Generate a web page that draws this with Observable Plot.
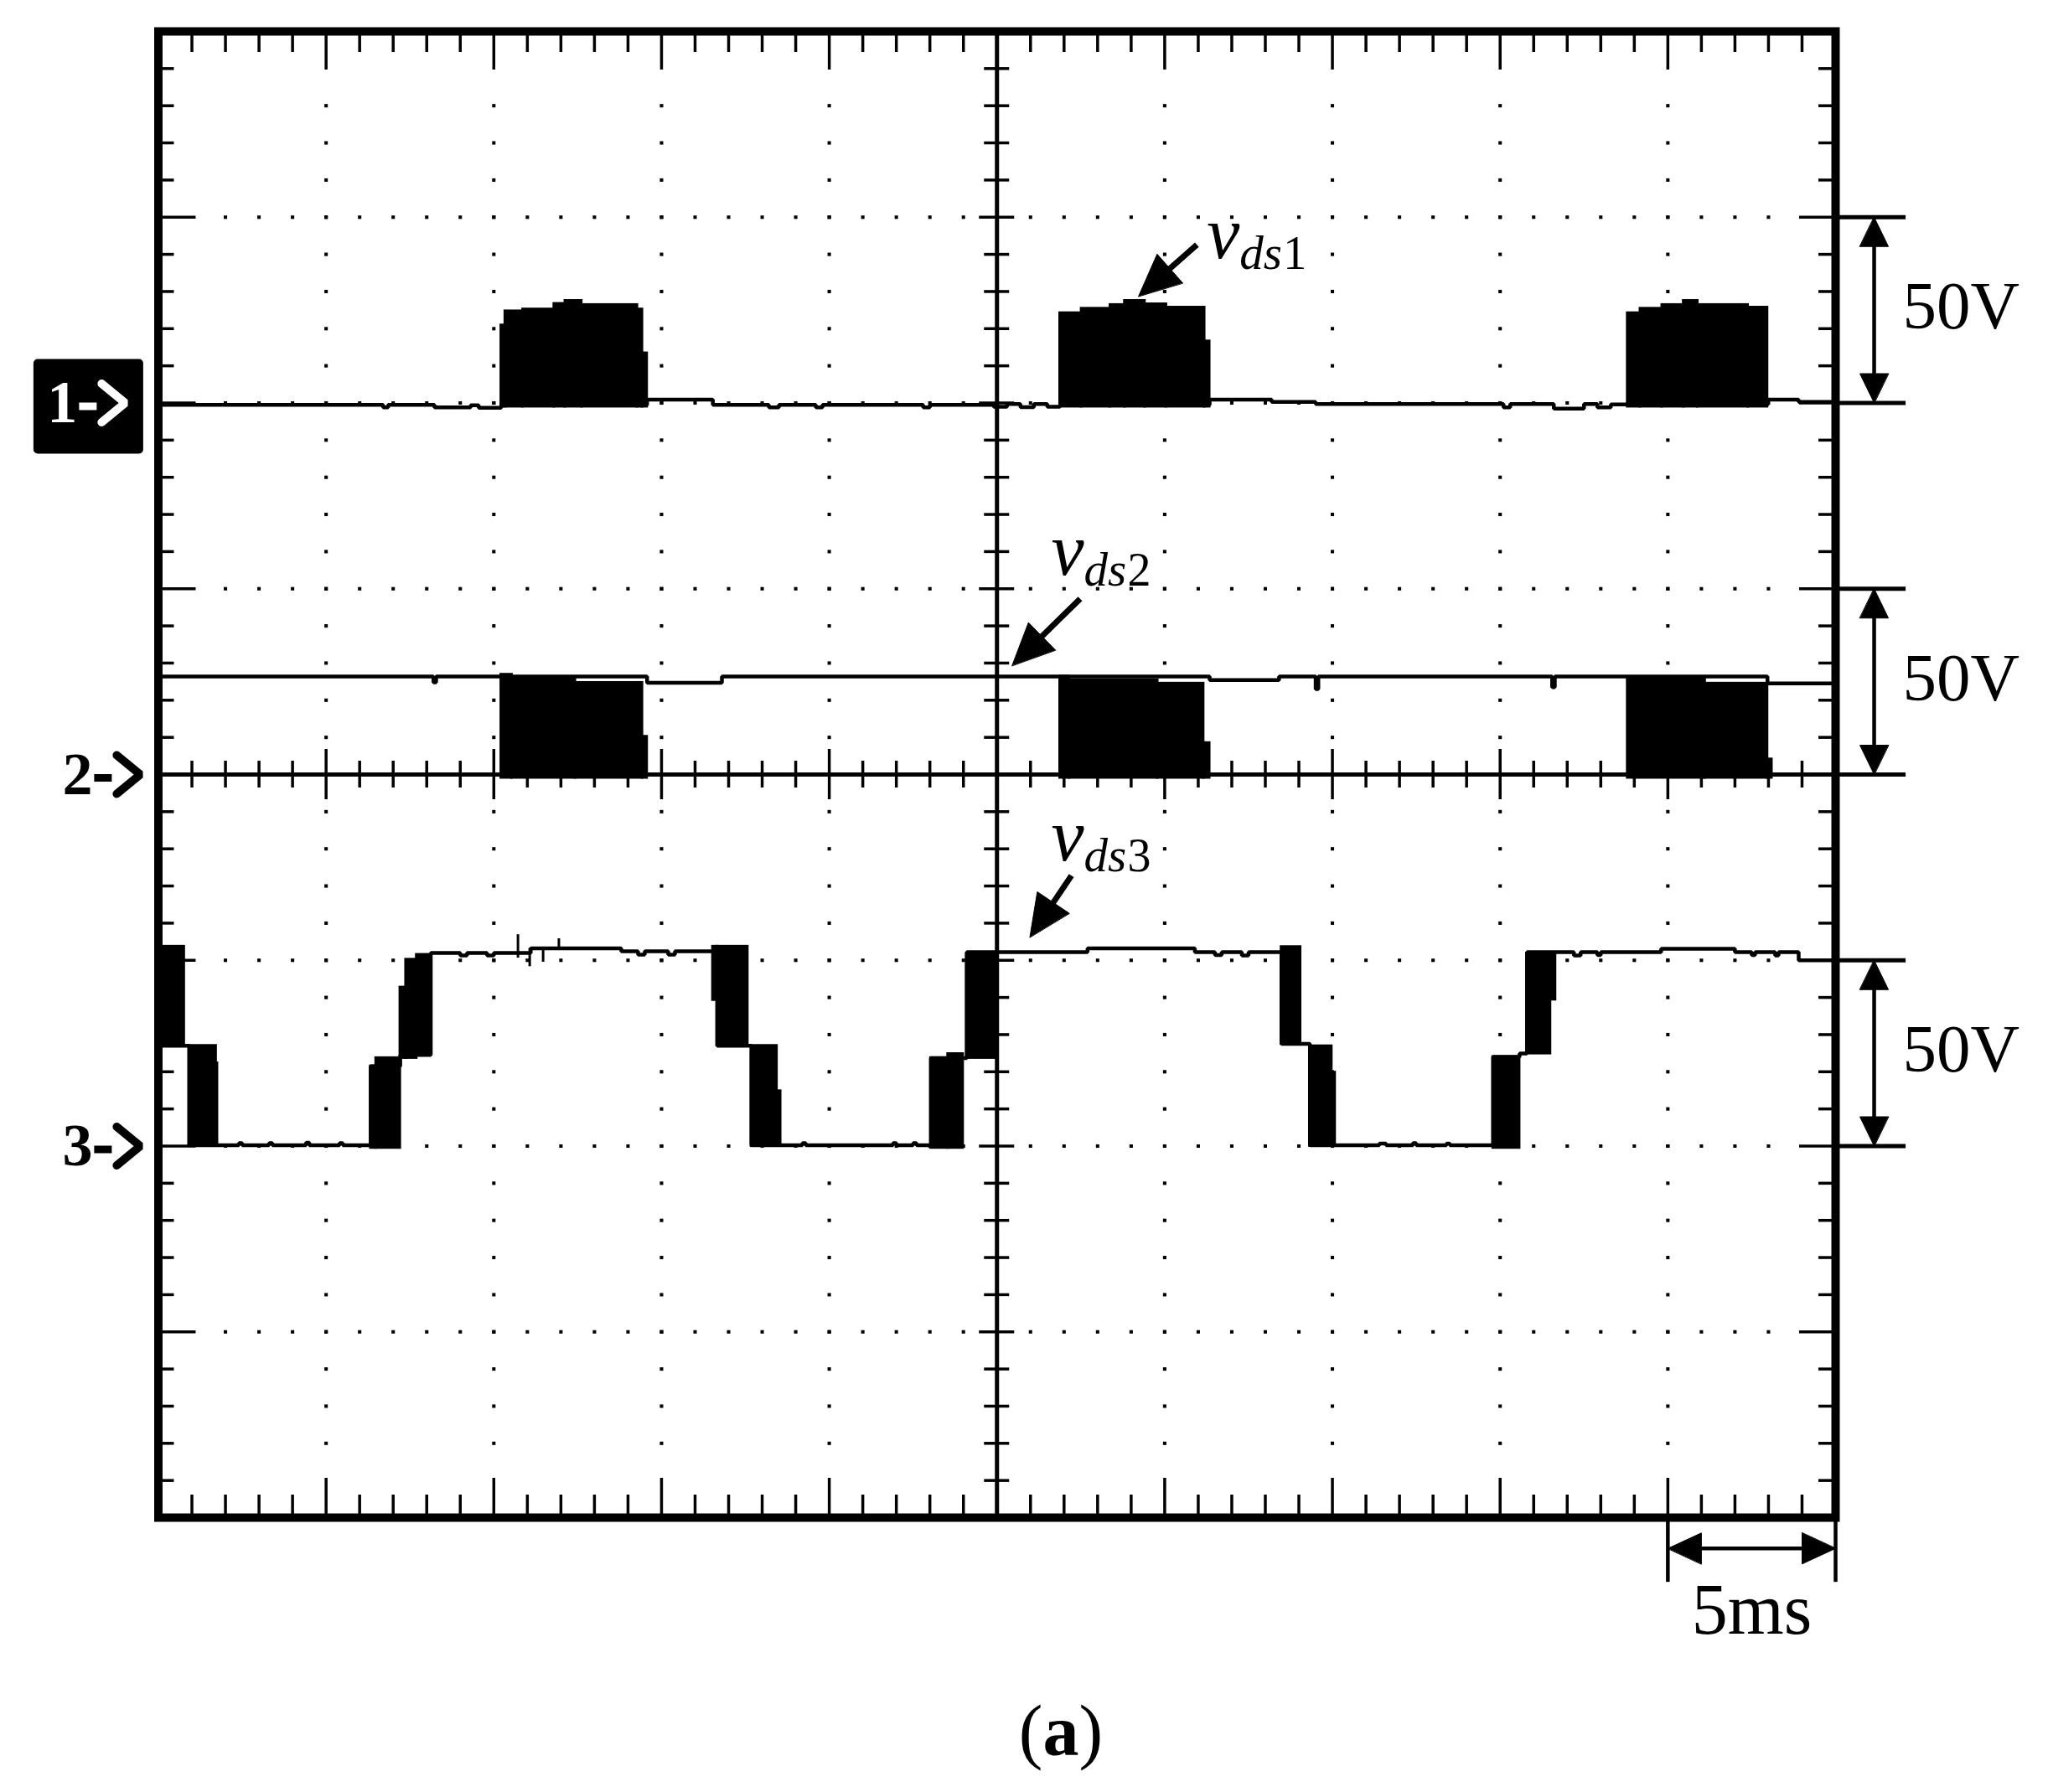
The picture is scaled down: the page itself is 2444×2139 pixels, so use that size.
<!DOCTYPE html>
<html><head><meta charset="utf-8">
<script src="https://cdn.jsdelivr.net/npm/d3@7"></script>
<script src="https://cdn.jsdelivr.net/npm/@observablehq/plot@0.6"></script>
<style>
html,body{margin:0;padding:0;background:#fff;}
#wrap{position:relative;width:2444px;height:2139px;background:#fff;}
#chart svg{display:block;}
#cap{position:absolute;left:1266px;top:2000px;transform:translateX(-50%);font-family:"Liberation Serif","Times New Roman",serif;font-size:86px;line-height:132px;white-space:nowrap;color:#000;}
</style></head><body>
<div id="wrap"><div id="chart"></div><div id="cap">(<b>a</b>)</div></div>
<script>
// ---------------- data (time in ms, 5 ms/div; voltage in V, 50 V/div) ----------------
const timeDomain = [0, 50];
const voltDomain = [-200, 200];
const channelNames = ["1", "2", "3"];
const channelOffsets = [100, 0, -100];          // ground marker of each channel (V on screen)

// channel 1 (v_ds1): thin trace, step-after
const ch1TraceT = [0, 6.70, 6.85, 8.23, 9.31, 9.55, 10.22, 14.57, 16.53, 18.2, 18.5, 19.6, 19.8, 22.8, 23.0, 24.9, 25.3, 25.7, 26.1, 26.5, 26.88, 31.34, 33.19, 34.5, 40.1, 40.3, 41.6, 42.5, 42.9, 43.3, 43.80, 47.97, 48.9, 50];
const ch1TraceV = [-0.5, -1.2, -0.5, -1.2, -0.6, -1.3, -0.5, 0.9, -0.5, -1.2, -0.5, -1.2, -0.5, -1.2, -0.5, -1.0, -0.3, -1.1, -0.3, -1.0, -0.5, 0.9, 0.3, -0.3, -1.2, -0.3, -1.5, -0.3, -1.2, -0.4, -0.5, 0.9, 0.3, 0.3];
// switching bursts (solid envelopes): [t0, t1, low, high]
const ch1Bursts = [
  [10.22, 10.34, -1, 20.9], [10.34, 10.87, -1, 24.7], [10.87, 11.80, -1, 25.2], [11.80, 12.13, -1, 26.7],
  [12.13, 12.62, -1, 27.5], [12.62, 14.28, -1, 26.4], [14.28, 14.43, -1, 25.2], [14.43, 14.57, -1, 13.4],
  [26.88, 27.52, -1, 24.2], [27.52, 28.38, -1, 25.4], [28.38, 28.81, -1, 26.4], [28.81, 29.41, -1, 27.5],
  [29.41, 30.05, -1, 26.6], [30.05, 31.19, -1, 25.7], [31.19, 31.34, -1, 16.6],
  [43.80, 44.18, -1, 24.2], [44.18, 44.83, -1, 25.4], [44.83, 45.47, -1, 26.4], [45.47, 45.89, -1, 27.5],
  [45.89, 47.39, -1, 26.4], [47.39, 47.97, -1, 25.7]
];

// channel 2 (v_ds2)
const ch2TraceT = [0, 8.20, 8.28, 10.22, 14.57, 16.80, 26.88, 31.34, 33.41, 34.50, 34.58, 41.55, 41.63, 43.80, 47.97, 50];
const ch2TraceV = [26.4, 24.8, 26.4, 26.4, 24.7, 26.4, 26.4, 25.4, 26.4, 23.0, 26.4, 23.5, 26.4, 26.4, 24.5, 24.5];
const ch2Bursts = [
  [10.22, 10.54, -0.9, 26.9], [10.54, 12.43, -0.9, 25.7], [12.43, 14.43, -0.9, 24.7], [14.43, 14.57, -0.9, 10.2],
  [26.88, 27.16, -0.9, 26.4], [27.16, 29.79, -0.9, 25.4], [29.79, 31.16, -0.9, 24.5], [31.16, 31.34, -0.9, 8.5],
  [43.80, 46.11, -0.9, 25.7], [46.11, 47.97, -0.9, 24.5], [47.97, 48.10, -0.9, 4.1]
];

// channel 3 (v_ds3): three-level staircase
const ch3TraceT = [0, 0.92, 2.4, 2.5, 3.3, 3.4, 4.4, 4.5, 5.4, 5.5, 6.33, 7.21, 8.12, 9.0, 9.2, 9.8, 10.0, 11.1, 13.8, 14.3, 14.5, 15.2, 15.4, 16.66, 17.68, 19.2, 19.3, 21.9, 22.0, 22.5, 22.6, 23.03, 24.10, 27.7, 30.9, 31.5, 31.7, 32.3, 32.5, 33.48, 34.33, 36.4, 36.6, 37.4, 37.5, 38.4, 38.5, 39.79, 40.58, 40.80, 42.2, 42.4, 42.9, 43.0, 44.8, 47.0, 47.5, 47.6, 48.2, 48.3, 48.9, 50];
const ch3TraceV = [27.0, 0.2, 0.8, 0.2, 0.8, 0.2, 0.9, 0.2, 0.8, 0.2, 21.5, 24.5, 52.0, 51.3, 52.0, 51.3, 52.0, 53.2, 52.4, 51.5, 52.4, 51.5, 52.4, 27.0, 0.2, 0.8, 0.2, 0.8, 0.2, 0.8, 0.2, 23.7, 52.2, 53.2, 52.2, 51.4, 52.2, 51.3, 52.2, 27.5, 0.2, 0.7, 0.2, 0.8, 0.2, 0.7, 0.2, 24.0, 24.9, 52.2, 51.3, 52.2, 51.4, 52.2, 53.1, 52.2, 51.4, 52.2, 51.3, 52.2, 50.0, 50.0];
const ch3Bursts = [
  [0, 0.77, 27.2, 53.7],
  [0.92, 1.72, 0, 27.0], [1.72, 1.76, 0, 22.3],
  [6.33, 6.49, -0.5, 21.5], [6.49, 7.21, -0.5, 23.7],
  [7.21, 7.38, 23.7, 42.7], [7.38, 7.70, 23.7, 50.2], [7.70, 8.12, 25.0, 51.5],
  [16.53, 16.66, 39.3, 53.7], [16.66, 17.57, 27.2, 53.7],
  [17.68, 18.44, 0, 27.0], [18.44, 18.55, 0, 14.8],
  [23.03, 23.54, -0.5, 23.7], [23.54, 23.99, -0.5, 24.8],
  [24.10, 24.95, 23.7, 51.5],
  [33.48, 34.05, 27.5, 53.6],
  [34.33, 34.98, 0, 26.9], [34.98, 35.08, 0, 19.8],
  [39.79, 40.58, -0.5, 24.0],
  [40.80, 41.50, 24.9, 51.4], [41.50, 41.65, 39.4, 51.4]
];
const ch3Spikes = [[10.72, 50.6, 56.9], [11.07, 48.3, 53.2], [11.47, 49.5, 53.0], [11.94, 53.0, 55.8]];

// annotations (v_ds labels and their arrows), in ms / V on screen
const labelStartMs = [31.26, 26.62, 26.62];
const labelBaseV = [138.9, 53.7, -23.0];
const arrowTailMs = [30.96, 27.48, 27.22];
const arrowTailV = [142.6, 47.3, -27.2];
const arrowTipMs = [29.22, 25.45, 25.98];
const arrowTipV = [128.7, 29.3, -43.8];
const voltBar = 50;            // "50V" scale bars
const voltBarMs = 51.15;
const voltBarStub = [50, 52.1];
const timeBar = [45, 50];      // "5ms" scale bar
const timeBarV = -208.3;
const timeBarTickV = [-200.7, -217.4];
const markerTipMs = [-0.89, -0.44, -0.44];

// ---------------- layout ----------------
const W = 2444, H = 2000, mL = 188.5, mR = 254, mT = 37, mB = 189;
const FONT = "'Liberation Serif', 'Times New Roman', serif";
const pxPerMs = (W - mL - mR) / (timeDomain[1] - timeDomain[0]);
const pxPerV = (H - mT - mB) / (voltDomain[1] - voltDomain[0]);
const dt = px => px / pxPerMs;
const dv = px => px / pxPerV;
const tMid = (timeDomain[0] + timeDomain[1]) / 2;

// grid and graticule
const gridT = [5, 10, 15, 20, 30, 35, 40, 45];
const gridV = [-150, -100, -50, 50, 100, 150];
const dotV = d3.range(-180, 181, 10);
const dotT = d3.range(2, 49, 1).filter(t => t !== tMid);
const gridDots = [
  ...gridT.flatMap(t => dotV.map(v => ({t, v}))),
  ...gridV.flatMap(v => dotT.map(t => ({t, v})))
];
const tickT = d3.range(1, 50, 1);
const tickV = d3.range(-190, 191, 10);
const majT = t => t % 5 === 0;
const majV = v => v % 50 === 0;

// traces
const chans = [
  {T: ch1TraceT, V: ch1TraceV, B: ch1Bursts},
  {T: ch2TraceT, V: ch2TraceV, B: ch2Bursts},
  {T: ch3TraceT, V: ch3TraceV, B: ch3Bursts}
];
const tracePts = chans.flatMap((c, ci) => c.T.map((t, i) => ({ch: ci, t, v: channelOffsets[ci] + c.V[i]})));
const burstRects = chans.flatMap((c, ci) => c.B.map(b => ({t0: b[0], t1: b[1], lo: channelOffsets[ci] + b[2], hi: channelOffsets[ci] + b[3]})));
const spikes = ch3Spikes.map(s => ({t: s[0], a: channelOffsets[2] + s[1], b: channelOffsets[2] + s[2]}));

// arrow helpers (pixel sizes converted to data units)
function dirPx(tip, tail) {
  const x = (tip[0] - tail[0]) * pxPerMs, y = -(tip[1] - tail[1]) * pxPerV;
  const n = Math.hypot(x, y);
  return [x / n, y / n];
}
function offsetPt(p, ox, oy) { return [p[0] + ox / pxPerMs, p[1] - oy / pxPerV]; }
function headPoly(id, tip, tail, len, wid) {
  const [ux, uy] = dirPx(tip, tail);
  const bx = -ux * len, by = -uy * len, px = -uy * wid / 2, py = ux * wid / 2;
  return [offsetPt(tip, 0, 0), offsetPt(tip, bx + px, by + py), offsetPt(tip, bx - px, by - py)]
    .map(p => ({id, t: p[0], v: p[1]}));
}
function backOff(tip, tail, len) {
  const [ux, uy] = dirPx(tip, tail);
  return offsetPt(tip, -ux * len, -uy * len);
}

const heads = [];
const shafts = [];
channelNames.forEach((k, i) => {
  const tip = [arrowTipMs[i], arrowTipV[i]], tail = [arrowTailMs[i], arrowTailV[i]];
  heads.push(...headPoly("L" + i, tip, tail, 50, 46));
  const b = backOff(tip, tail, 40);
  shafts.push({t1: tail[0], v1: tail[1], t2: b[0], v2: b[1]});
});
channelOffsets.forEach((o, i) => {
  const top = [voltBarMs, o + voltBar], bot = [voltBarMs, o];
  heads.push(...headPoly("U" + i, top, bot, 35, 34));
  heads.push(...headPoly("D" + i, bot, top, 35, 34));
  shafts.push({t1: voltBarMs, v1: o + dv(30), t2: voltBarMs, v2: o + voltBar - dv(30)});
});
{
  const l = [timeBar[0], timeBarV], r = [timeBar[1], timeBarV];
  heads.push(...headPoly("TL", l, r, 40, 37));
  heads.push(...headPoly("TR", r, l, 40, 37));
  shafts.push({t1: timeBar[0] + dt(35), v1: timeBarV, t2: timeBar[1] - dt(35), v2: timeBarV});
}
const shaftW = shafts.map((s, i) => i < 3 ? 7 : 4.5);

const labels = channelNames.map((k, i) => ({k, x: labelStartMs[i], y: labelBaseV[i]}));

// channel ground markers "n->"
const markers = channelNames.map((k, i) => ({k, i, tip: markerTipMs[i], off: channelOffsets[i]}));
const chevrons = markers.flatMap(m => [
  {id: m.i, t: m.tip - dt(32), v: m.off + dv(23)},
  {id: m.i, t: m.tip - dt(4), v: m.off},
  {id: m.i, t: m.tip - dt(32), v: m.off - dv(23)}
]);
const hyphens = markers.map(m => ({i: m.i, t1: m.tip - dt(59), t2: m.tip - dt(38), v: m.off - dv(4)}));
const box = [{x1: markerTipMs[1] - dt(131), x2: markerTipMs[1], y1: channelOffsets[0] - dv(61), y2: channelOffsets[0] + dv(52)}];
const isWhite = i => i === 0;

const chart = Plot.plot({
  width: W, height: H,
  marginLeft: mL, marginRight: mR, marginTop: mT, marginBottom: mB,
  x: {domain: timeDomain, axis: null},
  y: {domain: voltDomain, axis: null},
  style: {fontFamily: FONT, background: "white", color: "black", overflow: "visible"},
  marks: [
    // dotted graticule
    Plot.dot(gridDots, {x: "t", y: "v", symbol: "square", r: 2.3, fill: "black", stroke: "none"}),
    // ticks on the frame
    Plot.ruleX(tickT, {x: d => d, y1: voltDomain[1], y2: d => voltDomain[1] - dv(majT(d) ? 46 : 25), strokeWidth: 3.5, stroke: "black"}),
    Plot.ruleX(tickT, {x: d => d, y1: voltDomain[0], y2: d => voltDomain[0] + dv(majT(d) ? 47 : 27), strokeWidth: 3.5, stroke: "black"}),
    Plot.ruleY(tickV, {y: d => d, x1: timeDomain[0], x2: d => timeDomain[0] + dt(majV(d) ? 45 : 19), strokeWidth: 3.5, stroke: "black"}),
    Plot.ruleY(tickV, {y: d => d, x1: timeDomain[1], x2: d => timeDomain[1] - dt(majV(d) ? 43 : 20), strokeWidth: 3.5, stroke: "black"}),
    // centre axes with ticks
    Plot.ruleX([tMid], {strokeWidth: 5, stroke: "black"}),
    Plot.ruleY([0], {strokeWidth: 5, stroke: "black"}),
    Plot.ruleY(tickV, {y: d => d, x1: d => tMid - dt(majV(d) ? 21 : 15), x2: d => tMid + dt(majV(d) ? 21 : 15), strokeWidth: 3.5, stroke: "black"}),
    Plot.ruleX(tickT, {x: d => d, y1: d => -dv(majT(d) ? 30 : 16), y2: d => dv(majT(d) ? 30 : 16), strokeWidth: 3.5, stroke: "black"}),
    Plot.frame({strokeWidth: 10, stroke: "black"}),
    // waveforms
    Plot.rect(burstRects, {x1: "t0", x2: "t1", y1: "lo", y2: "hi", fill: "black", stroke: "black", strokeWidth: 3}),
    Plot.line(tracePts, {x: "t", y: "v", z: "ch", curve: "step-after", stroke: "black", strokeWidth: 4.5, strokeLinecap: "butt", strokeLinejoin: "miter"}),
    Plot.ruleX(spikes, {x: "t", y1: "a", y2: "b", stroke: "black", strokeWidth: 3}),
    // scale bars
    Plot.ruleY(channelOffsets.flatMap(o => [o, o + voltBar]), {y: d => d, x1: voltBarStub[0], x2: voltBarStub[1], stroke: "black", strokeWidth: 5}),
    Plot.ruleX(timeBar, {x: d => d, y1: timeBarTickV[0], y2: timeBarTickV[1], stroke: "black", strokeWidth: 4.5}),
    Plot.link(shafts, {x1: "t1", y1: "v1", x2: "t2", y2: "v2", stroke: "black", strokeWidth: (d, i) => shaftW[i]}),
    Plot.line(heads, {x: "t", y: "v", z: "id", curve: "linear-closed", fill: "black", stroke: "black", strokeWidth: 1}),
    // texts
    Plot.text(channelOffsets, {x: voltBarStub[1] - 0.1, y: d => d + 20, text: () => "50V", textAnchor: "start", lineAnchor: "bottom", fontSize: 81, fontFamily: FONT, fill: "black"}),
    Plot.text(["5ms"], {x: (timeBar[0] + timeBar[1]) / 2, y: -231.3, text: d => d, textAnchor: "middle", lineAnchor: "bottom", fontSize: 86, fontFamily: FONT, fill: "black"}),
    Plot.text(labels, {x: "x", y: "y", text: () => "v", textAnchor: "start", lineAnchor: "bottom", fontSize: 88, fontStyle: "italic", fontFamily: FONT, fill: "black"}),
    Plot.text(labels, {x: d => d.x + dt(39), y: d => d.y - dv(13), text: () => "ds", textAnchor: "start", lineAnchor: "bottom", fontSize: 57, fontStyle: "italic", fontFamily: FONT, fill: "black"}),
    Plot.text(labels, {x: d => d.x + dt(91), y: d => d.y - dv(13), text: "k", textAnchor: "start", lineAnchor: "bottom", fontSize: 56, fontFamily: FONT, fill: "black"}),
    // channel markers
    Plot.rect(box, {x1: "x1", x2: "x2", y1: "y1", y2: "y2", fill: "black", rx: 5}),
    Plot.text(markers.filter(m => isWhite(m.i)), {x: d => d.tip - dt(61), y: "off", text: "k", textAnchor: "end", fontWeight: "bold", fontSize: 72, fontFamily: FONT, fill: "white"}),
    Plot.text(markers.filter(m => !isWhite(m.i)), {x: d => d.tip - dt(61), y: "off", text: "k", textAnchor: "end", fontWeight: "bold", fontSize: 72, fontFamily: FONT, fill: "black"}),
    Plot.link(hyphens.filter(h => isWhite(h.i)), {x1: "t1", x2: "t2", y1: "v", y2: "v", stroke: "white", strokeWidth: 9}),
    Plot.link(hyphens.filter(h => !isWhite(h.i)), {x1: "t1", x2: "t2", y1: "v", y2: "v", stroke: "black", strokeWidth: 9}),
    Plot.line(chevrons.filter(c => isWhite(c.id)), {x: "t", y: "v", z: "id", stroke: "white", strokeWidth: 10, strokeLinejoin: "miter", strokeLinecap: "round"}),
    Plot.line(chevrons.filter(c => !isWhite(c.id)), {x: "t", y: "v", z: "id", stroke: "black", strokeWidth: 10, strokeLinejoin: "miter", strokeLinecap: "round"})
  ]
});
document.getElementById("chart").appendChild(chart);
</script>
</body></html>
